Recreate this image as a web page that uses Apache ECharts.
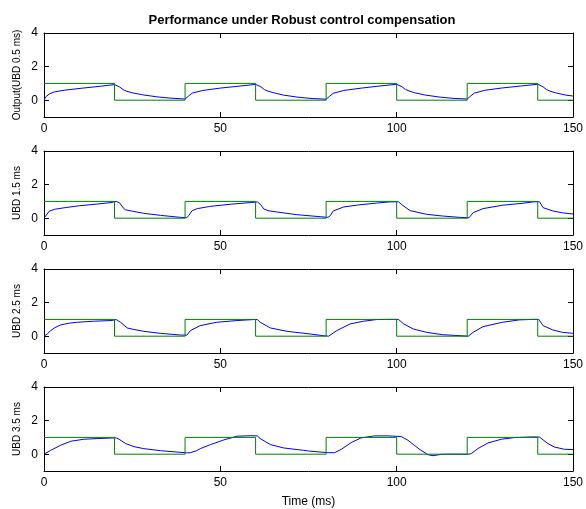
<!DOCTYPE html>
<html>
<head>
<meta charset="utf-8">
<script src="https://cdn.jsdelivr.net/npm/echarts@6/dist/echarts.min.js"></script>
<style>html,body{margin:0;padding:0;background:#fff;}#c{width:586px;height:509px;}</style>
</head>
<body>
<div id="c"></div>
<script>
// ---- data ----
const titleText = 'Performance under Robust control compensation';
const xName = 'Time (ms)';
const yNames = ['Output(UBD 0.5 ms)', 'UBD 1.5 ms', 'UBD 2.5 ms', 'UBD 3.5 ms'];
const xTicks = [0, 50, 100, 150];
const yTicks = [0, 2, 4];

// reference square wave
const refTime  = [0, 20, 20, 40, 40, 60, 60, 80, 80, 100, 100, 120, 120, 140, 140, 150];
const refValue = [1, 1, 0, 0, 1, 1, 0, 0, 1, 1, 0, 0, 1, 1, 0, 0];

// output, UBD 0.5 ms
const t1 = [0, 0.5, 1, 1.6, 3, 6, 11, 16, 20, 20.5, 21.5, 22.5, 23.5, 25, 28, 32, 36, 40,
  40.5, 41, 42, 45, 50, 55, 60, 60.5, 61.5, 62.5, 63.5, 65, 68, 72, 76, 80,
  80.5, 81, 82, 85, 90, 95, 100, 100.5, 101.5, 102.5, 103.5, 105, 108, 112, 116, 120,
  120.5, 121, 122, 125, 130, 135, 140, 140.5, 141.5, 142.5, 143.5, 145, 148, 150];
const y1 = [0, 0.2, 0.3, 0.38, 0.5, 0.6, 0.72, 0.83, 0.93, 0.92, 0.78, 0.62, 0.53, 0.44, 0.32, 0.2, 0.12, 0.07,
  0.12, 0.25, 0.42, 0.58, 0.72, 0.83, 0.94, 0.93, 0.8, 0.63, 0.54, 0.45, 0.3, 0.18, 0.1, 0.06,
  0.11, 0.24, 0.41, 0.58, 0.72, 0.84, 0.95, 0.94, 0.8, 0.64, 0.55, 0.45, 0.31, 0.19, 0.11, 0.07,
  0.12, 0.25, 0.42, 0.59, 0.73, 0.84, 0.95, 0.94, 0.8, 0.63, 0.54, 0.44, 0.3, 0.25];

// UBD 1.5 ms
const t2 = [0, 0.5, 1.5, 3, 6, 10, 15, 19, 20.5, 21.5, 22.5, 23.1, 25, 28.3, 33, 38.7, 40.5,
  41, 42, 43.5, 47, 52.8, 58.5, 60.5, 61.5, 62.3, 63.5, 66, 71.7, 78.3, 80.5,
  81.2, 82, 85, 89.6, 94.3, 98, 100.5, 101.5, 103.8, 108.5, 113, 117.9, 120.5,
  121.7, 124.5, 130, 135.8, 138.7, 140.5, 141.5, 144.3, 147, 150];
const y2 = [0, 0.1, 0.42, 0.53, 0.63, 0.74, 0.84, 0.93, 1.0, 0.9, 0.6, 0.5, 0.42, 0.29, 0.17, 0.05, 0.03,
  0.15, 0.45, 0.57, 0.7, 0.83, 0.93, 0.97, 0.8, 0.55, 0.45, 0.37, 0.21, 0.09, 0.05,
  0.15, 0.43, 0.67, 0.8, 0.9, 0.97, 0.98, 0.8, 0.45, 0.23, 0.13, 0.05, 0.02,
  0.33, 0.57, 0.77, 0.89, 0.97, 0.98, 0.63, 0.43, 0.32, 0.25];

// UBD 2.5 ms
const t3 = [0, 1, 1.9, 3, 4.7, 7, 9.4, 14, 19, 20.5, 21.7, 23.6, 25.5, 28.3, 33, 38.7, 40.5,
  41.5, 44.3, 49, 54.7, 59.4, 60.5, 61.3, 64.2, 68.9, 75.5, 79.2, 80.7,
  83, 86.8, 90.6, 94.3, 98, 100.5, 102, 104.7, 108.5, 113, 118, 120.3,
  121.7, 124.5, 130, 134.8, 138.5, 140.3, 141.5, 144.3, 147, 150];
const y3 = [0, 0.15, 0.33, 0.5, 0.67, 0.77, 0.83, 0.89, 0.93, 0.99, 0.83, 0.49, 0.4, 0.29, 0.17, 0.07, 0.06,
  0.33, 0.63, 0.83, 0.93, 0.99, 0.99, 0.83, 0.49, 0.29, 0.13, 0.03, 0.0,
  0.33, 0.73, 0.89, 0.99, 1.0, 1.0, 0.73, 0.43, 0.23, 0.09, 0.03, 0.0,
  0.23, 0.57, 0.83, 0.97, 1.0, 1.0, 0.63, 0.37, 0.23, 0.17];

// UBD 3.5 ms
const t4 = [0, 1.9, 4.7, 7.6, 11.3, 15.1, 19.8, 20.5, 21.3, 23.2, 25.5, 28.3, 33, 37.7, 40.5,
  41.5, 43.3, 44.3, 47.2, 51, 54.7, 58.5, 60.5, 61.3, 64.2, 68, 73.6, 75, 80.5,
  82.4, 84.3, 87.1, 89.9, 93.8, 97.5, 101.3, 103.2, 105, 106.9, 108.9, 110.3, 112.6, 114.5, 120.5,
  121.2, 123, 125.9, 129.7, 133.4, 139, 140.5, 141, 142.9, 144.7, 147.6, 150];
const y4 = [0, 0.23, 0.53, 0.77, 0.89, 0.93, 0.97, 0.97, 0.89, 0.63, 0.45, 0.33, 0.21, 0.13, 0.08,
  0.09, 0.21, 0.33, 0.57, 0.85, 1.07, 1.1, 1.09, 0.93, 0.57, 0.37, 0.23, 0.19, 0.09,
  0.09, 0.29, 0.69, 0.97, 1.09, 1.09, 1.05, 0.83, 0.53, 0.23, -0.03, -0.09, -0.01, 0, 0,
  0.04, 0.33, 0.67, 0.89, 0.99, 1.03, 1.02, 0.93, 0.63, 0.43, 0.29, 0.28];

const outTimes = [t1, t2, t3, t4];
const outValues = [y1, y2, y3, y4];

// ---- chart ----
const font = 'Liberation Sans, Arial, Helvetica, sans-serif';
const gridTops = [33, 151, 269, 387];
const grids = [], xAxes = [], yAxes = [], series = [];
const zip = (a, b) => a.map((v, i) => [v, b[i]]);

gridTops.forEach((top, i) => {
  grids.push({ left: 44, top: top, width: 529, height: 84, containLabel: false });
  const lineStyle = { color: '#000', width: 1 };
  // bottom x axis
  xAxes.push({
    type: 'value', gridIndex: i, position: 'bottom', min: 0, max: 150, interval: 50,
    axisLine: { show: true, onZero: false, lineStyle },
    axisTick: { show: true, inside: true, length: 5, lineStyle },
    axisLabel: { color: '#000', fontSize: 12, fontFamily: font, margin: 6, customValues: xTicks },
    splitLine: { show: false },
    name: i === 3 ? xName : '', nameLocation: 'middle', nameGap: 25,
    nameTextStyle: { color: '#000', fontSize: 12, fontFamily: font }
  });
  // top x axis (mirror)
  xAxes.push({
    type: 'value', gridIndex: i, position: 'top', min: 0, max: 150, interval: 50,
    axisLine: { show: true, onZero: false, lineStyle },
    axisTick: { show: true, inside: true, length: 5, lineStyle },
    axisLabel: { show: false }, splitLine: { show: false }
  });
  // left y axis
  yAxes.push({
    type: 'value', gridIndex: i, position: 'left', min: -1, max: 4,
    axisLine: { show: true, onZero: false, lineStyle },
    axisTick: { show: true, inside: true, length: 5, lineStyle, customValues: yTicks },
    axisLabel: { color: '#000', fontSize: 12, fontFamily: font, margin: 6, customValues: yTicks },
    splitLine: { show: false },
    name: yNames[i], nameLocation: 'middle', nameGap: 22, nameRotate: 90, nameMoveOverlap: false,
    nameTextStyle: { color: '#000', fontSize: 10, fontFamily: font }
  });
  // right y axis (mirror)
  yAxes.push({
    type: 'value', gridIndex: i, position: 'right', min: -1, max: 4,
    axisLine: { show: true, onZero: false, lineStyle },
    axisTick: { show: true, inside: true, length: 5, lineStyle, customValues: yTicks },
    axisLabel: { show: false }, splitLine: { show: false }
  });
  series.push({
    type: 'line', xAxisIndex: 2 * i, yAxisIndex: 2 * i, data: zip(outTimes[i], outValues[i]),
    showSymbol: false, symbol: 'none', smooth: false, animation: false,
    lineStyle: { color: '#0000ff', width: 1 }
  });
  series.push({
    type: 'line', xAxisIndex: 2 * i, yAxisIndex: 2 * i, data: zip(refTime, refValue),
    showSymbol: false, symbol: 'none', smooth: false, animation: false,
    lineStyle: { color: '#008000', width: 1 }
  });
});

const chart = echarts.init(document.getElementById('c'));
chart.setOption({
  animation: false,
  backgroundColor: '#fff',
  title: {
    text: titleText, left: 297, top: 9, textAlign: 'center',
    textStyle: { color: '#000', fontSize: 13, fontWeight: 'bold', fontFamily: font }
  },
  grid: grids, xAxis: xAxes, yAxis: yAxes, series: series
});
</script>
</body>
</html>
